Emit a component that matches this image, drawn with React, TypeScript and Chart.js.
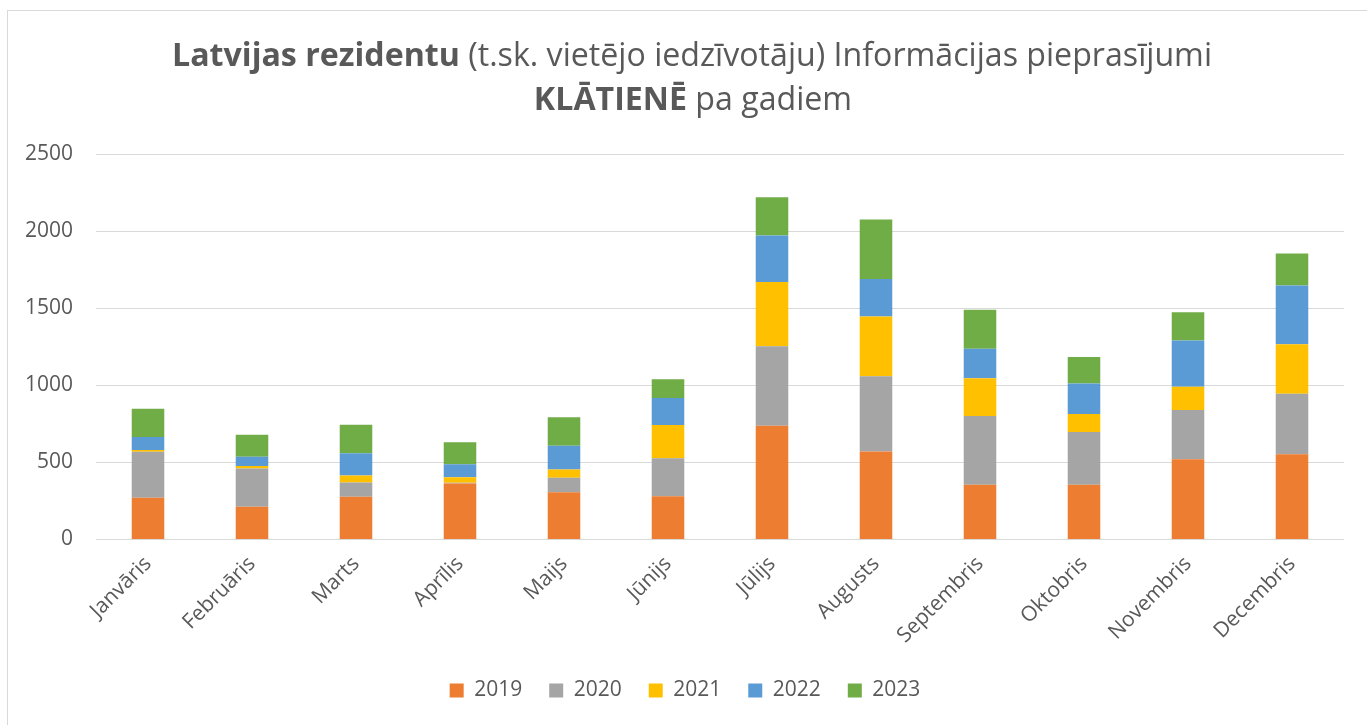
import React, { useEffect, useRef } from "react";
import { Chart, registerables } from "chart.js";

Chart.register(...registerables);

const months = [
  "Janvāris", "Februāris", "Marts", "Aprīlis", "Maijs", "Jūnijs",
  "Jūlijs", "Augusts", "Septembris", "Oktobris", "Novembris", "Decembris",
];
const years = ["2019", "2020", "2021", "2022", "2023"];
const v2019 = [270, 213, 278, 363, 306, 280, 737, 571, 355, 355, 521, 553];
const v2020 = [299, 247, 91, 5, 94, 247, 517, 487, 446, 342, 319, 392];
const v2021 = [11, 16, 46, 35, 54, 215, 416, 388, 245, 117, 151, 321];
const v2022 = [84, 60, 145, 85, 154, 175, 302, 244, 191, 198, 299, 381];
const v2023 = [184, 143, 184, 143, 184, 122, 247, 386, 253, 171, 184, 208];
const colors = ["#ED7D31", "#A5A5A5", "#FFC000", "#5B9BD5", "#70AD47"];
const yTicks = [0, 500, 1000, 1500, 2000, 2500];

const titleLine1 = [
  { text: "Latvijas rezidentu", bold: true },
  { text: " (t.sk. vietējo iedzīvotāju) Informācijas pieprasījumi", bold: false },
];
const titleLine2 = [
  { text: "KLĀTIENĒ", bold: true },
  { text: " pa gadiem", bold: false },
];

const FONT = "'Open Sans', 'Noto Sans', sans-serif";
const TEXT = "#595959";

const framePlugin = {
  id: "frameTitle",
  afterLayout(chart: any) {
    if (chart.legend) {
      chart.legend.left += 13;
      chart.legend.right += 13;
    }
  },
  beforeDraw(chart: any) {
    const ctx = chart.ctx;
    ctx.save();
    ctx.fillStyle = "#ffffff";
    ctx.fillRect(0, 0, chart.width, chart.height);
    ctx.strokeStyle = "#d9d9d9";
    ctx.lineWidth = 1;
    ctx.strokeRect(7.5, 10.5, chart.width + 20, chart.height + 20);
    ctx.restore();
  },
  afterDraw(chart: any) {
    const ctx = chart.ctx;
    const size = 32;
    const fontFor = (b: boolean) => `${b ? "bold " : ""}${size}px ${FONT}`;
    const measure = (segs: any[]) =>
      segs.reduce((w, s) => {
        ctx.font = fontFor(s.bold);
        return w + ctx.measureText(s.text).width;
      }, 0);
    ctx.save();
    const w1 = measure(titleLine1);
    const sx = 1040 / w1;
    const drawLine = (segs: any[], cx: number, baseY: number) => {
      const w = measure(segs) * sx;
      let x = cx - w / 2;
      for (const s of segs) {
        ctx.font = fontFor(s.bold);
        const sw = ctx.measureText(s.text).width;
        ctx.save();
        ctx.translate(x, baseY);
        ctx.scale(sx, 1);
        ctx.fillStyle = TEXT;
        ctx.textBaseline = "alphabetic";
        ctx.textAlign = "left";
        ctx.fillText(s.text, 0, 0);
        ctx.restore();
        x += sw * sx;
      }
    };
    drawLine(titleLine1, 692, 66);
    drawLine(titleLine2, 693, 110);
    ctx.restore();
  },
};

export default function App() {
  const ref = useRef<HTMLCanvasElement | null>(null);
  useEffect(() => {
    if (!ref.current) return;
    const series = [v2019, v2020, v2021, v2022, v2023];
    const chart = new Chart(ref.current, {
      type: "bar",
      data: {
        labels: months,
        datasets: years.map((y, i) => ({
          label: y,
          data: series[i],
          backgroundColor: colors[i],
          borderWidth: 0,
          barPercentage: 0.313,
          categoryPercentage: 1,
        })),
      },
      options: {
        responsive: false,
        animation: false,
        devicePixelRatio: 1,
        layout: { padding: { left: 0, right: 23, top: 154, bottom: 14 } },
        plugins: {
          title: { display: false },
          tooltip: { enabled: false },
          legend: {
            position: "bottom",
            labels: {
              boxWidth: 14,
              boxHeight: 14,
              padding: 27,
              color: TEXT,
              font: { family: FONT, size: 21 },
            },
          },
        },
        scales: {
          x: {
            stacked: true,
            grid: { display: false },
            border: { display: false },
            ticks: {
              color: TEXT,
              font: { family: FONT, size: 21 },
              minRotation: 45,
              maxRotation: 45,
              autoSkip: false,
              padding: 4,
            },
            afterFit: (s: any) => {
              s.height = 113.5;
            },
          },
          y: {
            stacked: true,
            min: 0,
            max: 2500,
            afterBuildTicks: (s: any) => {
              s.ticks = yTicks.map((v) => ({ value: v }));
            },
            grid: { color: "#d9d9d9", lineWidth: 1, drawTicks: false },
            border: { display: false },
            ticks: {
              color: TEXT,
              font: { family: FONT, size: 21 },
              padding: 23,
              callback: (v: any) => String(v),
            },
            afterFit: (s: any) => {
              s.width = 96;
            },
          },
        },
      },
      plugins: [framePlugin],
    });
    return () => chart.destroy();
  }, []);
  return (
    <div style={{ position: "absolute", left: 0, top: 0, width: 1367, height: 725 }}>
      <canvas ref={ref} width={1367} height={725} style={{ display: "block" }} />
    </div>
  );
}
